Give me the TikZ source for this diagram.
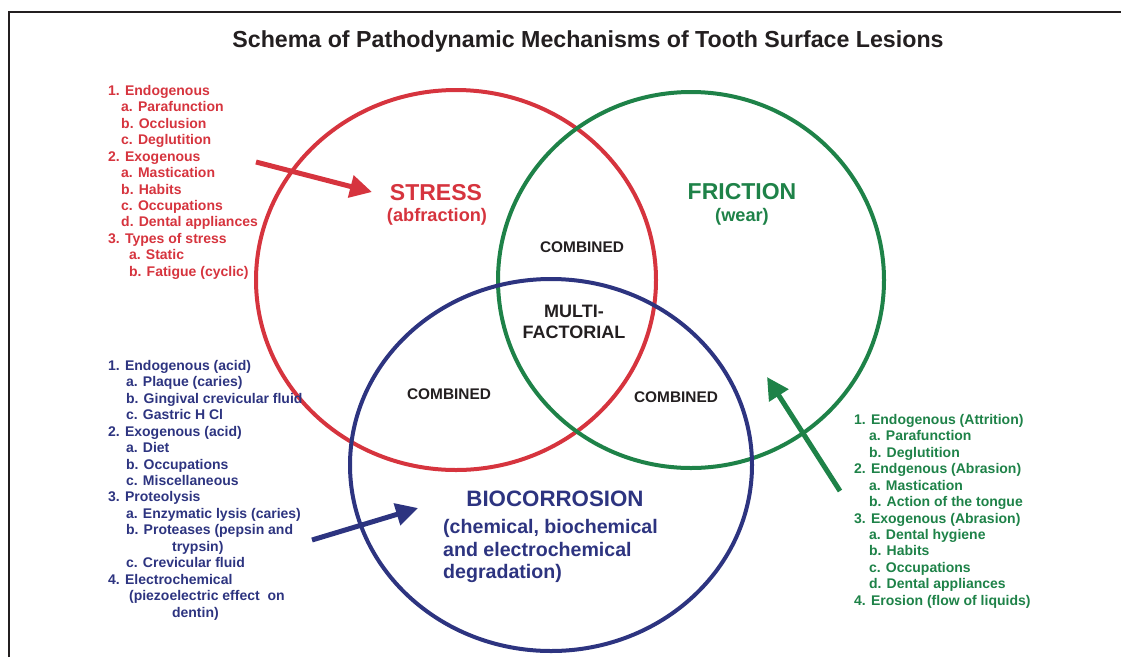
\documentclass[tikz,border=0pt]{standalone}
\usepackage{fontspec}
\setmainfont{Liberation Sans}
\usetikzlibrary{arrows.meta}
\definecolor{stressred}{RGB}{214,52,62}
\definecolor{frictiongreen}{RGB}{30,130,72}
\definecolor{biocblue}{RGB}{45,52,128}
\definecolor{inkgray}{RGB}{35,31,32}
\newcommand{\listindent}[1][13pt]{\hspace*{#1}}
\tikzset{
  ring/.style={line width=4pt},
  bigarrow/.style={line width=5pt, -{Triangle[length=22pt,width=22pt]}},
  listtext/.style={anchor=north west, align=left, inner sep=0pt,
    font=\fontsize{14}{16.45}\selectfont\bfseries},
  headtext/.style={inner sep=0pt, font=\fontsize{23}{26}\selectfont\bfseries},
  paren/.style={inner sep=0pt, font=\fontsize{18.2}{22}\selectfont\bfseries},
  overlap/.style={inner sep=0pt, text=inkgray, font=\fontsize{15.4}{18}\selectfont\bfseries}
}
\begin{document}
\begin{tikzpicture}[x=1pt,y=-1pt]
\useasboundingbox (0,0) rectangle (1121,657);
\clip (0,0) rectangle (1121,657);
\draw[line width=2pt, inkgray] (9,657) -- (9,12) -- (1121,12);

\node[inner sep=0pt, text=inkgray, font=\fontsize{23.2}{26}\selectfont\bfseries] (title) at (588,41)
  {Schema of Pathodynamic Mechanisms of Tooth Surface Lesions};

\draw[ring, stressred] (456,280) ellipse [x radius=200pt, y radius=190pt];
\draw[ring, frictiongreen] (691,280) ellipse [x radius=193pt, y radius=188pt];
\draw[ring, biocblue] (551,465) ellipse [x radius=201pt, y radius=186pt];

\node[headtext, text=stressred] (stress) at (436,193) {STRESS};
\node[paren, text=stressred] (abfraction) at (437,217) {(abfraction)};
\node[headtext, text=frictiongreen] (friction) at (742,192) {FRICTION};
\node[paren, text=frictiongreen] (wear) at (742,217) {(wear)};
\node[headtext, text=biocblue, font=\fontsize{22.3}{26}\selectfont\bfseries] (biocorrosion) at (555,499) {BIOCORROSION};
\node[anchor=west, align=left, inner sep=0pt, text=biocblue, font=\fontsize{19.6}{22.5}\selectfont\bfseries] (degradation) at (443,551)
  {(chemical, biochemical\\and electrochemical\\degradation)};

\node[overlap] (combinedtop) at (582,247) {COMBINED};
\node[overlap] (combinedleft) at (449,394) {COMBINED};
\node[overlap] (combinedright) at (676,397) {COMBINED};
\node[overlap, align=center, font=\fontsize{18}{21}\selectfont\bfseries] (multi) at (574,322) {MULTI-\\FACTORIAL};

\node[listtext, text=stressred] (stresslist) at (108,85)
  {1. Endogenous\\
   \listindent a. Parafunction\\
   \listindent b. Occlusion\\
   \listindent c. Deglutition\\
   2. Exogenous\\
   \listindent a. Mastication\\
   \listindent b. Habits\\
   \listindent c. Occupations\\
   \listindent d. Dental appliances\\
   3. Types of stress\\
   \listindent[17pt] a. Static\\
   \listindent[17pt] b. Fatigue (cyclic)};

\node[listtext, text=biocblue] (bioclist) at (108,360)
  {1. Endogenous (acid)\\
   \listindent[14pt] a. Plaque (caries)\\
   \listindent[14pt] b. Gingival crevicular fluid\\
   \listindent[14pt] c. Gastric H Cl\\
   2. Exogenous (acid)\\
   \listindent[14pt] a. Diet\\
   \listindent[14pt] b. Occupations\\
   \listindent[14pt] c. Miscellaneous\\
   3. Proteolysis\\
   \listindent[14pt] a. Enzymatic lysis (caries)\\
   \listindent[14pt] b. Proteases (pepsin and\\
   \listindent[60pt] trypsin)\\
   \listindent[14pt] c. Crevicular fluid\\
   4. Electrochemical\\
   \listindent[17pt] (piezoelectric effect\ \ on\\
   \listindent[60pt] dentin)};

\node[listtext, text=frictiongreen] (frictionlist) at (854,414)
  {1. Endogenous (Attrition)\\
   \listindent[11pt] a. Parafunction\\
   \listindent[11pt] b. Deglutition\\
   2. Endgenous (Abrasion)\\
   \listindent[11pt] a. Mastication\\
   \listindent[11pt] b. Action of the tongue\\
   3. Exogenous (Abrasion)\\
   \listindent[11pt] a. Dental hygiene\\
   \listindent[11pt] b. Habits\\
   \listindent[11pt] c. Occupations\\
   \listindent[11pt] d. Dental appliances\\
   4. Erosion (flow of liquids)};

\coordinate (stresstail) at (256,162);
\coordinate (stresstip) at (372,192);
\coordinate (bioctail) at (312,540);
\coordinate (bioctip) at (418,508);
\coordinate (frictiontail) at (840,491);
\coordinate (frictiontip) at (767,377);
\draw[bigarrow, stressred] (stresstail) -- (stresstip);
\draw[bigarrow, biocblue] (bioctail) -- (bioctip);
\draw[bigarrow, frictiongreen] (frictiontail) -- (frictiontip);
\end{tikzpicture}
\end{document}
